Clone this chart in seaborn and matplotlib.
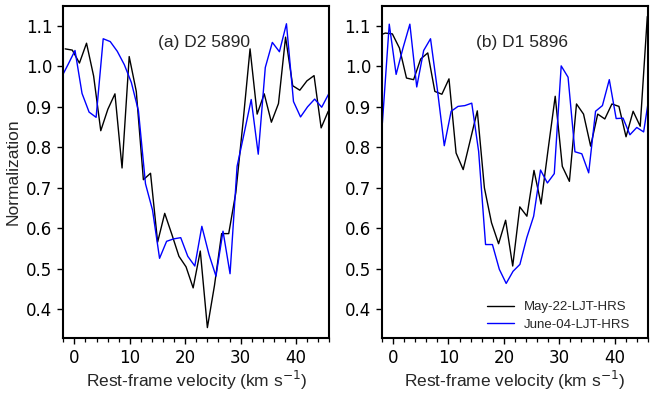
import matplotlib
matplotlib.use("Agg")
import matplotlib.pyplot as plt
import seaborn as sns
from matplotlib.ticker import MultipleLocator

# --- data (velocity in km/s, normalized flux) ---
# (a) Na I D2 5890
vel_d2_may = [-1.66, -0.38, 0.91, 2.19, 3.47, 4.76, 6.04, 7.32, 8.60, 9.89,
              11.17, 12.45, 13.74, 15.02, 16.30, 17.59, 18.87, 20.15, 21.43, 22.72,
              24.00, 25.28, 26.57, 27.85, 29.13, 30.42, 31.70, 32.98, 34.26, 35.55,
              36.83, 38.11, 39.40, 40.68, 41.96, 43.25, 44.53, 45.81]
flux_d2_may = [1.043, 1.040, 1.008, 1.057, 0.976, 0.841, 0.894, 0.932, 0.749, 1.024,
               0.938, 0.720, 0.736, 0.566, 0.637, 0.585, 0.531, 0.505, 0.453, 0.544,
               0.355, 0.459, 0.587, 0.587, 0.688, 0.860, 1.043, 0.882, 0.932, 0.862,
               0.908, 1.072, 0.952, 0.941, 0.964, 0.977, 0.848, 0.889]

vel_d2_june = [-2.44, -1.16, 0.11, 1.38, 2.65, 3.92, 5.20, 6.47, 7.74, 9.01,
               10.28, 11.56, 12.83, 14.10, 15.37, 16.64, 17.92, 19.19, 20.46, 21.73,
               23.00, 24.28, 25.55, 26.82, 28.09, 29.36, 30.64, 31.91, 33.18, 34.45,
               35.72, 37.00, 38.27, 39.54, 40.81, 42.08, 43.36, 44.63, 45.90]
flux_d2_june = [0.970, 1.004, 1.039, 0.933, 0.887, 0.874, 1.068, 1.061, 1.037, 1.004,
                0.960, 0.890, 0.710, 0.645, 0.526, 0.568, 0.574, 0.577, 0.531, 0.507,
                0.605, 0.536, 0.482, 0.593, 0.488, 0.753, 0.835, 0.918, 0.783, 0.997,
                1.059, 1.036, 1.105, 0.913, 0.875, 0.900, 0.919, 0.899, 0.932]

# (b) Na I D1 5896
vel_d1_may = [-2.68, -1.40, -0.12, 1.16, 2.43, 3.71, 4.99, 6.27, 7.55, 8.82,
              10.10, 11.38, 12.66, 13.93, 15.21, 16.49, 17.77, 19.05, 20.32, 21.60,
              22.88, 24.16, 25.44, 26.71, 27.99, 29.27, 30.55, 31.83, 33.11, 34.38,
              35.66, 36.94, 38.22, 39.50, 40.77, 42.05, 43.33, 44.61, 45.89]
flux_d1_may = [1.075, 1.082, 1.080, 1.045, 0.971, 0.967, 1.018, 1.033, 0.938, 0.931,
               0.969, 0.786, 0.745, 0.817, 0.890, 0.700, 0.614, 0.562, 0.620, 0.507,
               0.653, 0.630, 0.743, 0.660, 0.795, 0.926, 0.753, 0.716, 0.907, 0.882,
               0.803, 0.882, 0.870, 0.907, 0.901, 0.826, 0.889, 0.852, 1.123]

vel_d1_june = [-1.92, -0.68, 0.56, 1.80, 3.04, 4.28, 5.53, 6.77, 8.01, 9.25,
               10.49, 11.73, 12.97, 14.21, 15.45, 16.70, 17.94, 19.18, 20.42, 21.66,
               22.90, 24.14, 25.38, 26.62, 27.86, 29.10, 30.35, 31.59, 32.83, 34.07,
               35.31, 36.55, 37.79, 39.03, 40.27, 41.51, 42.75, 43.99, 45.23, 46.48]
flux_d1_june = [0.860, 1.104, 0.980, 1.045, 1.104, 0.949, 1.039, 1.068, 0.942, 0.804,
                0.889, 0.901, 0.903, 0.909, 0.790, 0.560, 0.560, 0.499, 0.464, 0.494,
                0.511, 0.577, 0.630, 0.744, 0.712, 0.735, 1.001, 0.973, 0.789, 0.784,
                0.737, 0.889, 0.903, 0.967, 0.871, 0.872, 0.831, 0.849, 0.838, 0.950]

labels = ['May-22-LJT-HRS', 'June-04-LJT-HRS']
colors = ['black', 'blue']
panel_titles = ['(a) D2 5890', '(b) D1 5896']

# --- style ---
sns.set_style("ticks")
plt.rcParams['font.family'] = ['DejaVu Sans']
plt.rcParams['axes.linewidth'] = 1.5
plt.rcParams['axes.edgecolor'] = 'black'
plt.rcParams['xtick.color'] = 'black'
plt.rcParams['ytick.color'] = 'black'
TXT = 'Liberation Sans'

fig = plt.figure(figsize=(6.54, 3.95), dpi=100)
ax1 = fig.add_axes([0.0968, 0.145, 0.4067, 0.841])
ax2 = fig.add_axes([0.584, 0.145, 0.4067, 0.841])

series = [
    (ax1, vel_d2_may, flux_d2_may, vel_d2_june, flux_d2_june),
    (ax2, vel_d1_may, flux_d1_may, vel_d1_june, flux_d1_june),
]

for i, (ax, v1, f1, v2, f2) in enumerate(series):
    kw1 = dict(label=labels[0]) if i == 1 else {}
    kw2 = dict(label=labels[1]) if i == 1 else {}
    sns.lineplot(x=v1, y=f1, ax=ax, color=colors[0], lw=1.0,
                 estimator=None, sort=False, **kw1)
    sns.lineplot(x=v2, y=f2, ax=ax, color=colors[1], lw=1.0,
                 estimator=None, sort=False, **kw2)

    ax.set_xlim(-2, 46)
    ax.set_ylim(0.33, 1.15)
    ax.xaxis.set_major_locator(MultipleLocator(10))
    ax.xaxis.set_minor_locator(MultipleLocator(2))
    ax.yaxis.set_major_locator(MultipleLocator(0.1))
    ax.yaxis.set_major_formatter(plt.FormatStrFormatter('%.1f'))
    ax.tick_params(axis='both', which='major', direction='out', length=4.3,
                   width=1.0, labelsize=12, color='black', labelcolor='black')
    ax.tick_params(axis='x', which='minor', direction='out', length=2.6,
                   width=0.9, color='black')
    for sp in ax.spines.values():
        sp.set_visible(True)
        sp.set_linewidth(1.5)
        sp.set_color('black')
    ax.set_xlabel('Rest-frame velocity (km s$^{-1}$)', fontsize=12.5,
                  family=TXT, labelpad=1.5)
    ax.text(0.528, 0.89, panel_titles[i], transform=ax.transAxes,
            ha='center', va='center', fontsize=12.5, family=TXT)

ax1.set_ylabel('Normalization', fontsize=12.5, family=TXT)
ax2.set_ylabel('')

ax2.legend(loc='lower right', bbox_to_anchor=(0.955, 0.005), borderaxespad=0,
           frameon=False, labelspacing=0.4,
           prop={'family': TXT, 'size': 9.5})

plt.savefig('out.png', dpi=100)
